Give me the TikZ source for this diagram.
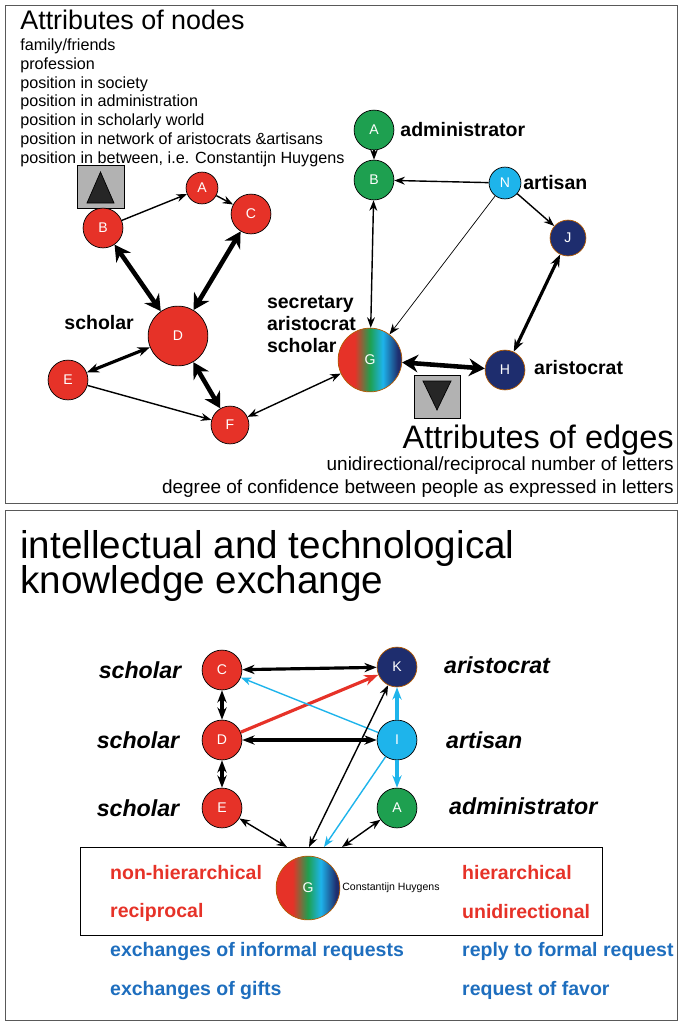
\documentclass[tikz,border=0pt]{standalone}
\usepackage{fontspec}
\setmainfont{Liberation Sans}
\usetikzlibrary{arrows.meta}
\definecolor{nred}{RGB}{230,50,40}
\definecolor{ngreen}{RGB}{30,160,80}
\definecolor{ncyan}{RGB}{30,180,235}
\definecolor{nnavy}{RGB}{30,45,110}
\definecolor{tblue}{RGB}{30,110,190}
\pgfdeclarehorizontalshading{huyg}{100bp}{color(0bp)=(nred);color(38bp)=(nred);color(50bp)=(ngreen);color(60bp)=(ncyan);color(72bp)=(nnavy);color(100bp)=(nnavy)}
\tikzset{
  pers/.style={circle, draw=black, text=white, inner sep=0pt, minimum size=#1*0.567pt, font=\footnotesize},
  rd/.style={pers=#1, fill=nred},
  gr/.style={pers=#1, fill=ngreen},
  cy/.style={pers=#1, fill=ncyan},
  nv/.style={pers=#1, fill=nnavy, draw=orange!70!black},
  hg/.style={pers=#1, shading=huyg, draw=orange!70!black},
  role/.style={font=\bfseries\fontsize{11.1}{12.5}\selectfont},
  irole/.style={font=\bfseries\itshape\fontsize{13.2}{15}\selectfont},
  lab/.style={anchor=west, font=\bfseries\fontsize{11.1}{13}\selectfont},
  lnk/.style={-{Stealth[length=6pt]}, thick},
  both/.style={{Stealth[length=6pt]}-{Stealth[length=6pt]}, thick},
  fat/.style={{Stealth[length=9pt,width=10pt]}-{Stealth[length=9pt,width=10pt]}, line width=2.6pt},
  mid/.style={{Stealth[length=7pt]}-{Stealth[length=7pt]}, line width=1.8pt},
}
\begin{document}
\begin{tikzpicture}[x=0.02cm, y=-0.02cm]
    \useasboundingbox (0,0) rectangle (680,1025);
    \draw[gray!70!black] (5,5) rectangle (677,503);
    \draw[gray!70!black] (5,510) rectangle (677,1020);

    % upper panel: attributes
    \node[anchor=west, font=\fontsize{15.3}{17}\selectfont, inner sep=0pt] (tnodes) at (20,20) {Attributes of nodes};
    \node[anchor=north west, align=left, font=\fontsize{9.2}{10.8}\selectfont, inner sep=0pt] (alist) at (20,38)
      {family/friends\\profession\\position in society\\position in administration\\position in scholarly world\\position in network of aristocrats \&artisans\\position in between, i.e. Constantijn Huygens};
    \draw[fill=gray!60] (77,165) rectangle (124,208);
    \draw[fill=gray!30!black, draw=black] (87,203) -- (100.5,172) -- (114,203) -- cycle;

    \node[rd=40] (b) at (103,228) {B};
    \node[rd=32] (a) at (202,188) {A};
    \node[rd=40] (c) at (251,214) {C};
    \node[rd=60] (d) at (178,336) {D};
    \node[rd=40] (e) at (68,380) {E};
    \node[rd=38] (f) at (230,425) {F};
    \node[role, anchor=east] (lsch) at (140,323) {scholar};

    \node[gr=40] (ga) at (374,130) {A};
    \node[role, anchor=west] at (ga.east) {administrator};
    \node[gr=40] (gb) at (374,180) {B};
    \node[cy=32] (n) at (505,183) {N};
    \node[role, anchor=west, inner sep=1pt] at (n.east) {artisan};
    \node[nv=36] (j) at (568,238) {J};
    \node[hg=64] (g) at (370,360) {G};
    \node[role, anchor=south east, align=left, inner sep=1pt] (lsec) at (358,355) {secretary\\aristocrat\\scholar};
    \node[nv=40] (h) at (505,370) {H};
    \node[role, anchor=west] at (528,368) {aristocrat};
    \draw[fill=gray!60] (414,375) rectangle (460,418);
    \draw[fill=gray!30!black, draw=black] (423,381) -- (451,381) -- (437,410) -- cycle;

    \node[anchor=east, font=\fontsize{18.5}{20}\selectfont, inner sep=0pt] (tedges) at (674,440) {Attributes of edges};
    \node[anchor=east, inner sep=0pt, font=\fontsize{10.8}{12}\selectfont] at (674,466) {unidirectional/reciprocal number of letters};
    \node[anchor=east, inner sep=0pt, font=\fontsize{10.8}{12}\selectfont] at (674,489) {degree of confidence between people as expressed in letters};

    \draw[lnk] (b) -- (a);
    \draw[lnk] (a) -- (c);
    \draw[fat] (b) -- (d);
    \draw[fat] (c) -- (d);
    \draw[fat] (d) -- (f);
    \draw[mid] (d) -- (e);
    \draw[lnk] (e) -- (f);
    \draw[both] (f) -- (g);
    \draw[lnk] (ga) -- (gb);
    \draw[both] (gb) -- (g);
    \draw[lnk] (n) -- (gb);
    \draw[lnk, thin] (n) -- (g);
    \draw[lnk] (n) -- (j);
    \draw[mid] (j) -- (h);
    \draw[fat] (g) -- (h);

    % lower panel: exchange
    \node[anchor=west, font=\fontsize{22}{24}\selectfont, inner sep=0pt] (texch) at (20,548) {intellectual and technological};
    \node[anchor=west, font=\fontsize{22}{24}\selectfont, inner sep=0pt] (texch2) at (20,583) {knowledge exchange};
    \node[rd=40] (sc) at (222,670) {C};
    \node[rd=40] (sd) at (222,740) {D};
    \node[rd=40] (se) at (222,808) {E};
    \node[nv=40] (sk) at (397,667) {K};
    \node[cy=40] (si) at (397,740) {I};
    \node[gr=40] (sa) at (397,808) {A};
    \node[irole] at (140,670) {scholar};
    \node[irole] at (138,740) {scholar};
    \node[irole] at (138,808) {scholar};
    \node[irole, anchor=west] at (438,665) {aristocrat};
    \node[irole, anchor=west] at (440,740) {artisan};
    \node[irole, anchor=west] at (443,806) {administrator};

    \draw (80,847) rectangle (602,935);
    \coordinate (pe) at (287,847);
    \coordinate (pk) at (309,847);
    \coordinate (pi) at (324,847);
    \coordinate (pa) at (342,847);
    \node[hg=64] (hg) at (308,888) {G};
    \node[anchor=west, font=\fontsize{6}{7}\selectfont, inner sep=1pt] at (hg.east) {Constantijn Huygens};
    \node[lab, text=nred] at (104,873) {non-hierarchical};
    \node[lab, text=nred] at (104,912) {reciprocal};
    \node[lab, text=nred] at (456,873) {hierarchical};
    \node[lab, text=nred] at (456,912) {unidirectional};
    \node[lab, text=tblue] at (104,951) {exchanges of informal requests};
    \node[lab, text=tblue] at (104,990) {exchanges of gifts};
    \node[lab, text=tblue] at (456,951) {reply to formal request};
    \node[lab, text=tblue] at (456,990) {request of favor};

    \draw[mid] (sc) -- (sk);
    \draw[mid] (sc) -- (sd);
    \draw[mid] (sd) -- (se);
    \draw[mid] (sd) -- (si);
    \draw[-{Stealth[length=8pt]}, line width=1.8pt, nred] (sd) -- (sk);
    \draw[-{Stealth[length=6pt]}, thick, ncyan] (si) -- (sc);
    \draw[-{Stealth[length=7pt]}, line width=1.8pt, ncyan] (si) -- (sk);
    \draw[-{Stealth[length=7pt]}, line width=1.8pt, ncyan] (si) -- (sa);
    \draw[both] (se) -- (pe);
    \draw[both] (sk) -- (pk);
    \draw[-{Stealth[length=6pt]}, ncyan, thick] (si) -- (pi);
    \draw[both] (sa) -- (pa);
\end{tikzpicture}
\end{document}
